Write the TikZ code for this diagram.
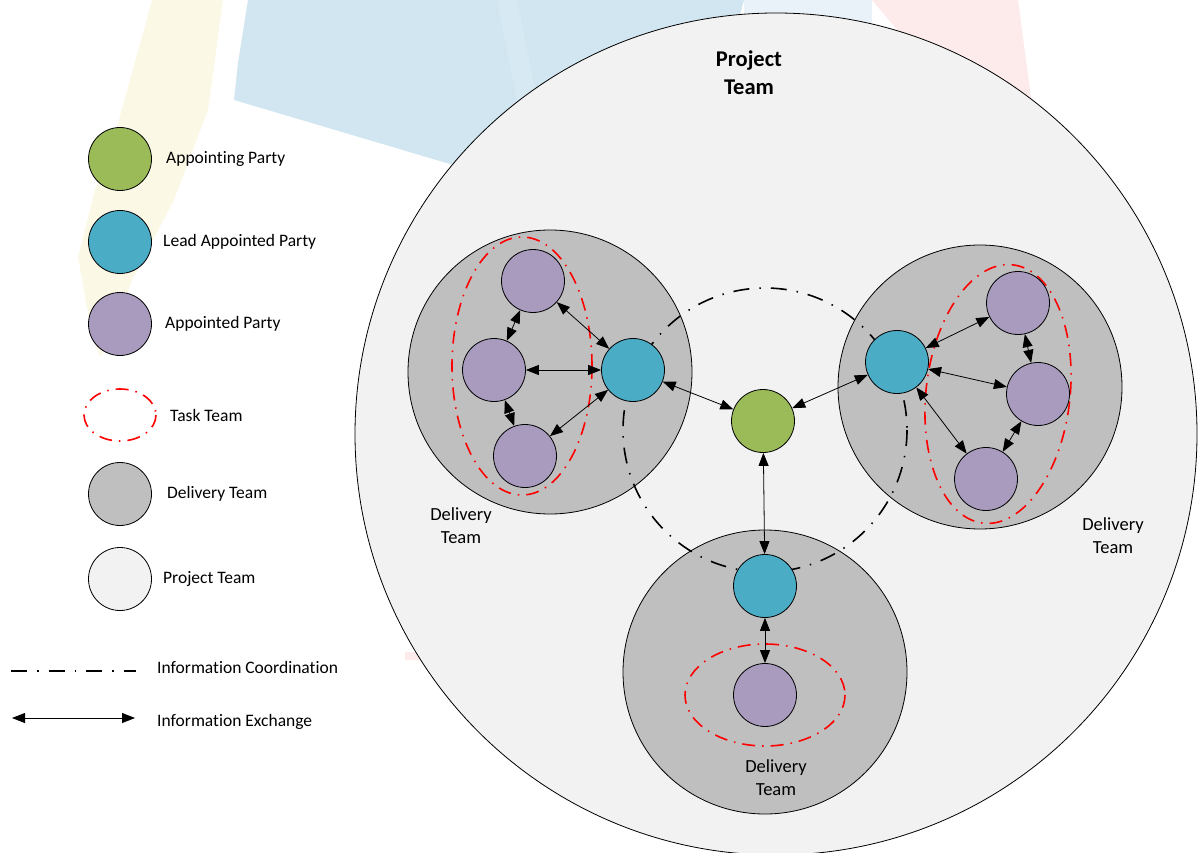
\documentclass[tikz,border=0pt]{standalone}
\usepackage{fontspec}
\setmainfont{Carlito}[Ligatures=NoCommon]
\usepackage{tikz}
\usetikzlibrary{arrows.meta}
\definecolor {appgreen}  {RGB}{155, 187, 089}
\definecolor {leadblue}  {RGB}{075, 172, 198}
\definecolor {apppurple} {RGB}{168, 155, 190}
\definecolor {teamgrey}  {RGB}{191, 191, 191}
\definecolor {projgrey}  {RGB}{242, 242, 242}
\definecolor {wmblue}    {RGB}{209, 230, 240}
\definecolor {wmstripe}  {RGB}{215, 234, 244}
\definecolor {wmlight}   {RGB}{233, 242, 249}
\definecolor {wmyellow}  {RGB}{251, 248, 230}
\definecolor {wmpink}    {RGB}{253, 235, 235}

\tikzset{
	party/.style={circle, draw=black, line width=0.8pt, minimum size=63pt, inner sep=0pt},
	appointing/.style={party, fill=appgreen},
	leadparty/.style={party, fill=leadblue},
	appointed/.style={party, fill=apppurple},
	delivery/.style={circle, draw=black, line width=0.8pt, fill=teamgrey, minimum size=284pt, inner sep=0pt},
	taskteam/.style={draw=red, line width=1.6pt, dash pattern=on 13pt off 7pt on 1.5pt off 7pt},
	coord/.style={draw=black, line width=1.6pt, dash pattern=on 16pt off 10pt on 1.5pt off 10pt},
	exch/.style={draw=black, line width=0.8pt, {Triangle[length=13pt, width=10pt]}-{Triangle[length=13pt, width=10pt]}},
	legendtext/.style={anchor=west, inner sep=0pt, font=\fontsize{17.5}{21}\selectfont},
	teamlabel/.style={align=center, inner sep=0pt, font=\fontsize{18.5}{23}\selectfont}
}

\begin{document}
\begin{tikzpicture}[x=1pt, y=-1pt]

	\useasboundingbox (0, 0) rectangle (1199, 853);

	% faint shapes behind everything
	\fill[wmyellow] (152, 0) -- (223, 0) -- (208, 110) -- (174, 200) -- (132, 280) -- (112, 340) -- (100, 357) -- (92, 335) -- (78, 257) -- (95, 190) -- (117, 127) -- (143, 33) -- cycle;
	\fill[wmblue] (248, 0) -- (238, 63) -- (234, 100) -- (460, 167) -- (700, 167) -- (744, 0) -- cycle;
	\fill[wmstripe] (497, 0) -- (517, 0) -- (545, 140) -- (525, 140) -- cycle;
	\fill[wmlight] (744, 0) rectangle (872, 30);
	\fill[wmpink] (872, 0) -- (1018, 0) -- (1032, 105) -- (960, 105) -- cycle;
	\fill[wmpink] (405, 652) rectangle (420, 660);

	% Project team
	\draw[fill=projgrey, line width=0.8pt] (776, 434) circle [radius=421];
	\node[font=\fontsize{22.5}{28}\selectfont\bfseries, align=center] (ptTitle) at (749, 73) {Project\\Team};

	% Delivery teams
	\node[delivery] (dtLeft)   at (550, 372) {};
	\node[delivery] (dtRight)  at (980, 387) {};
	\node[delivery] (dtBottom) at (765, 672) {};

	\node[teamlabel] (dtLeftLabel)   at (461, 526)  {Delivery\\Team};
	\node[teamlabel] (dtRightLabel)  at (1113, 536) {Delivery\\Team};
	\node[teamlabel] (dtBottomLabel) at (776, 778)  {Delivery\\Team};

	% Task teams
	\draw[taskteam] (522, 366) ellipse [x radius=70, y radius=129];
	\draw[taskteam, rotate around={-6.6:(998, 394)}] (998, 394) ellipse [x radius=72, y radius=130];
	\draw[taskteam] (765, 695) ellipse [x radius=80, y radius=51];

	% Information coordination
	\draw[coord] (765, 430) circle [radius=142];

	% parties
	\node[appointing] (appParty) at (763, 421) {};

	\node[leadparty] (lLead)  at (633, 370) {};
	\node[appointed] (lpTop)  at (533, 281) {};
	\node[appointed] (lpMid)  at (494, 370) {};
	\node[appointed] (lpBot)  at (525, 456) {};

	\node[leadparty] (rLead)  at (897, 362) {};
	\node[appointed] (rpTop)  at (1018, 303) {};
	\node[appointed] (rpMid)  at (1038, 394) {};
	\node[appointed] (rpBot)  at (986, 479) {};

	\node[leadparty] (bLead)  at (765, 586) {};
	\node[appointed] (bpOne)  at (765, 695) {};

	% Information exchange
	\foreach \a/\b in {lLead/appParty, rLead/appParty, bLead/appParty,
		lpTop/lLead, lpMid/lLead, lpBot/lLead, lpTop/lpMid, lpMid/lpBot,
		rpTop/rLead, rpMid/rLead, rpBot/rLead, rpTop/rpMid, rpMid/rpBot,
		bpOne/bLead}
		\draw[exch] (\a) -- (\b);

	% Legend
	\foreach \y/\col/\x/\txt in {159/appgreen/166/Appointing Party, 242/leadblue/163/Lead Appointed Party, 324/apppurple/165/Appointed Party, 494/teamgrey/167/Delivery Team, 579/projgrey/163/Project Team}
	{
		\node[party, fill=\col] (key\y) at (120, \y) {};
		\node[legendtext] (keyText\y) at (\x, \y) {\txt};
	}

	\draw[taskteam] (120, 415) ellipse [x radius=36, y radius=26];
	\node[legendtext] (keyText415) at (170, 415) {Task Team};

	\coordinate (coordA) at (11, 671);
	\coordinate (coordB) at (136, 671);
	\draw[coord] (coordA) -- (coordB);
	\node[legendtext] (keyText667) at (157, 667) {Information Coordination};

	\coordinate (exchA) at (12, 718);
	\coordinate (exchB) at (135, 718);
	\draw[exch] (exchA) -- (exchB);
	\node[legendtext] (keyText722) at (157, 722) {Information Exchange};

\end{tikzpicture}
\end{document}
